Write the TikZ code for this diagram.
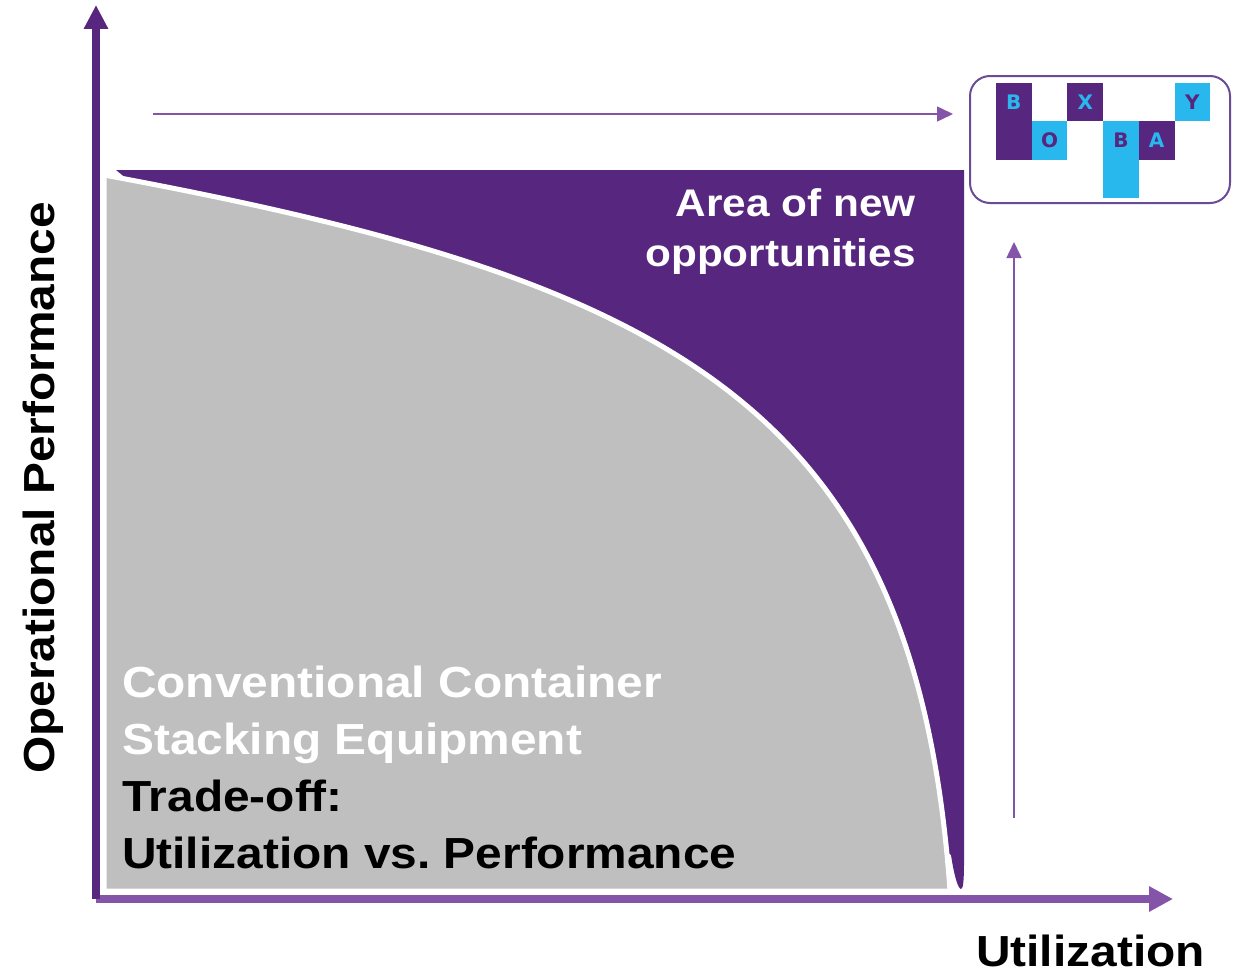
\documentclass[tikz,border=0pt]{standalone}
\usepackage{fontspec}
\setmainfont{Liberation Sans}[FakeStretch=1.1]
\newfontfamily\logofont{DejaVu Sans}
\usetikzlibrary{arrows.meta,positioning}
\definecolor{areapurple}{HTML}{57267F}
\definecolor{axislight}{HTML}{8454A8}
\definecolor{frontgray}{HTML}{BFBFBF}
\definecolor{logocyan}{HTML}{29B8EE}
\definecolor{logoframe}{HTML}{6A4B96}
\frenchspacing

\begin{document}
\begin{tikzpicture}[x=1pt,y=-1pt]
    \tikzset{
        big text/.style={font=\fontsize{43.5}{52}\selectfont\bfseries, inner sep=0pt},
        area text/.style={font=\fontsize{38.5}{46}\selectfont\bfseries, inner sep=0pt, text=white},
        yaxis/.style={areapurple, line width=8pt, -{Triangle[length=24pt,width=23pt]}},
        xaxis/.style={axislight, line width=8pt, -{Triangle[length=24pt,width=24pt]}},
        thin arrow/.style={axislight, line width=1.5pt, -{Triangle[length=16pt,width=15pt]}},
        logo frame/.style={draw=logoframe, line width=2pt, rounded corners=20pt,
            minimum width=260pt, minimum height=127pt, inner sep=0pt},
        logo letter/.style={font=\logofont\fontsize{20}{24}\selectfont\bfseries, inner sep=0pt},
    }
    \def\frontier{(104,175) .. controls (676,281) and (916,407) .. (950,891)}
    \useasboundingbox (0,0) rectangle (1241,974);
    % area of new opportunities and the conventional region
    \fill[areapurple] (116,170) -- (964,170) -- (964,862) .. controls (964,882) and (963,889) .. (961,889)
        .. controls (958,889) and (954,875) .. (951,855) -- cycle;
    \filldraw[fill=frontgray, draw=white, line width=5pt] \frontier -- (104,891) -- cycle;
    % axes
    \coordinate (origin) at (96,899);
    \coordinate (ytip) at (96,5);
    \coordinate (xtip) at (1173,899);
    \draw[xaxis] (origin) -- (xtip);
    \draw[yaxis] (origin) -- (ytip);
    \node[big text, rotate=90, anchor=base west] (ylabel) at (54,774) {Operational Performance};
    \node[big text, anchor=base west] (xlabel) at (976,966) {Utilization};
    % texts
    \node[big text, text=white, anchor=base west] (conv) at (122,697) {Conventional Container};
    \node[big text, text=white, below=57.3pt of conv.base west, anchor=base west] (stack) {Stacking Equipment};
    \node[big text, below=57.3pt of stack.base west, anchor=base west] (trade) {Trade-off:};
    \node[big text, below=57.3pt of trade.base west, anchor=base west] (versus) {Utilization vs. Performance};
    \node[area text, anchor=base east] (area) at (916,216) {Area of new};
    \node[area text, below=50pt of area.base east, anchor=base east] (opps) {opportunities};
    % logo
    \node[logo frame] (logo) at (1100,139.5) {};
    \foreach \c/\r/\n/\bg/\fg/\t in {0/0/2/areapurple/logocyan/B, 1/1/1/logocyan/areapurple/O,
        2/0/1/areapurple/logocyan/X, 3/1/2/logocyan/areapurple/B,
        4/1/1/areapurple/logocyan/A, 5/0/1/logocyan/areapurple/Y}{
        \fill[\bg] ({996+35.7*\c},{83+38.3*\r}) rectangle ++(35.7,{38.3*\n});
        \node[logo letter, text=\fg] (letter\c) at ({996+35.7*(\c+0.5)},{83+38.3*(\r+0.5)}) {\t};
    }
    % arrows towards the logo
    \coordinate (hstart) at (153,114);
    \coordinate (hend) at (953,114);
    \coordinate (vstart) at (1014,818);
    \coordinate (vend) at (1014,242);
    \draw[thin arrow] (hstart) -- (hend);
    \draw[thin arrow] (vstart) -- (vend);
\end{tikzpicture}
\end{document}
